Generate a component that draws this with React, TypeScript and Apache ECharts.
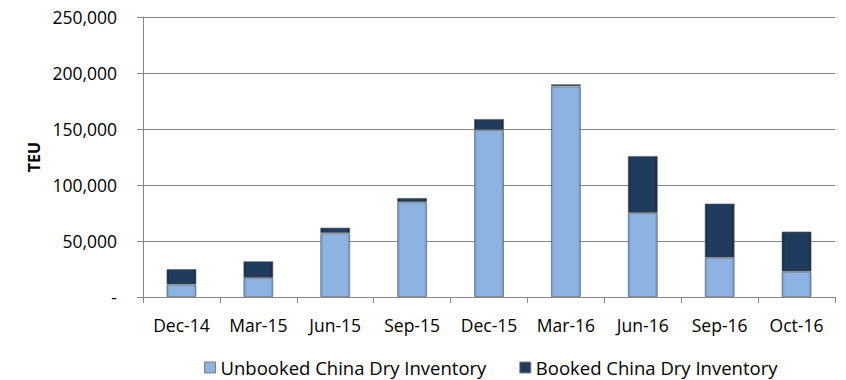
import React, { useEffect, useRef } from "react";
import * as echarts from "echarts";

const categories = ["Dec-14", "Mar-15", "Jun-15", "Sep-15", "Dec-15", "Mar-16", "Jun-16", "Sep-16", "Oct-16"];
const unbooked = [11000, 17000, 57000, 84500, 149000, 188000, 75000, 35000, 22500];
const booked = [14000, 15000, 5000, 4000, 10000, 2000, 51000, 48500, 36000];
const seriesNames = ["Unbooked China Dry Inventory", "Booked China Dry Inventory"];
const yAxisName = "TEU";

const FONT = "'Open Sans', sans-serif";

function hGrad(edge: string, mid: string) {
  return new echarts.graphic.LinearGradient(0, 0, 1, 0, [
    { offset: 0, color: edge },
    { offset: 0.1, color: mid },
    { offset: 0.9, color: mid },
    { offset: 1, color: edge },
  ]);
}

export default function App() {
  const ref = useRef<HTMLDivElement>(null);
  useEffect(() => {
    if (!ref.current) return;
    const chart = echarts.init(ref.current, undefined, { renderer: "svg" });
    chart.setOption({
      animation: false,
      backgroundColor: "#ffffff",
      grid: { left: 143, right: 11, top: 17, bottom: 83, containLabel: false },
      legend: {
        left: 204,
        top: 358,
        padding: 0,
        itemWidth: 11,
        itemHeight: 11,
        itemGap: 33,
        icon: "rect",
        textStyle: { fontFamily: FONT, fontSize: 18.5, color: "#000", padding: [0, 0, 0, 0] },
        data: [
          { name: seriesNames[0], itemStyle: { color: hGrad("#6f94c0", "#8db3e2"), borderColor: "#7f7f7f", borderWidth: 1 } },
          { name: seriesNames[1], itemStyle: { color: hGrad("#14263d", "#1f3b5e"), borderColor: "#7f7f7f", borderWidth: 1 } },
        ],
      },
      xAxis: {
        type: "category",
        data: categories,
        axisLine: { lineStyle: { color: "#868686", width: 1 } },
        axisTick: { show: true, length: 6, lineStyle: { color: "#868686" } },
        axisLabel: { fontFamily: FONT, fontSize: 17.5, color: "#000", margin: 19 },
      },
      yAxis: {
        type: "value",
        min: 0,
        max: 250000,
        interval: 50000,
        name: yAxisName,
        nameLocation: "middle",
        nameGap: 96,
        nameRotate: 90,
        nameTextStyle: { fontFamily: FONT, fontSize: 16, fontWeight: "bold", color: "#000" },
        axisLine: { show: true, lineStyle: { color: "#868686", width: 1 } },
        axisTick: { show: true, length: 6, lineStyle: { color: "#868686" } },
        splitLine: { lineStyle: { color: "#868686", width: 1 } },
        axisLabel: {
          fontFamily: FONT,
          fontSize: 17.5,
          color: "#000",
          margin: 26,
          formatter: (v: number) => (v === 0 ? "-" : v.toLocaleString("en-US")),
        },
      },
      series: [
        {
          name: seriesNames[0],
          type: "bar",
          stack: "total",
          barWidth: 30,
          data: unbooked,
          itemStyle: { color: hGrad("#6f94c0", "#8db3e2"), borderColor: "rgba(90,90,90,0.6)", borderWidth: 1 },
        },
        {
          name: seriesNames[1],
          type: "bar",
          stack: "total",
          barWidth: 30,
          data: booked,
          itemStyle: { color: hGrad("#14263d", "#1f3b5e"), borderColor: "rgba(90,90,90,0.6)", borderWidth: 1 },
        },
      ],
    });
    return () => chart.dispose();
  }, []);
  return <div ref={ref} style={{ position: "absolute", left: 0, top: 0, width: 846, height: 380 }} />;
}
